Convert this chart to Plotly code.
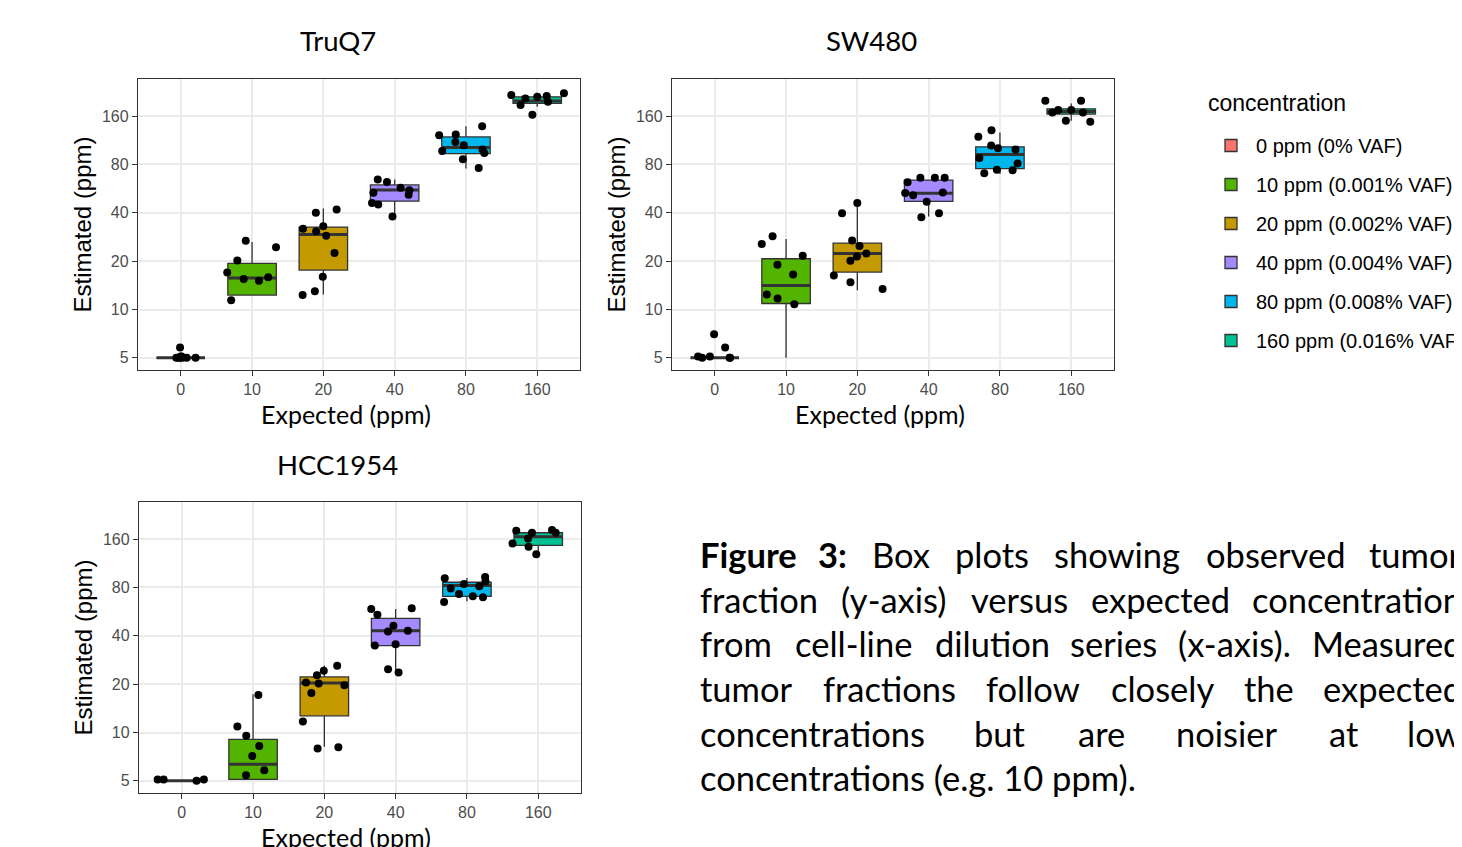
import math
import plotly.graph_objects as go

# ---- data ---------------------------------------------------------------
CATEGORIES = ["0", "10", "20", "40", "80", "160"]
LEGEND_LABELS = ["0 ppm (0% VAF)", "10 ppm (0.001% VAF)", "20 ppm (0.002% VAF)",
                 "40 ppm (0.004% VAF)", "80 ppm (0.008% VAF)", "160 ppm (0.016% VAF)"]
COLORS = ["#F8766D", "#53B400", "#C49A00", "#A58AFF", "#00B6EB", "#00C094"]
Y_TICKS = [5, 10, 20, 40, 80, 160]

# TruQ7
TRUQ7_Q1 = [5, 12.3, 17.6, 47.3, 93.5, 192]
TRUQ7_MED = [5, 15.7, 29.3, 55.5, 102, 199]
TRUQ7_Q3 = [5, 19.4, 32.6, 59.7, 118.8, 211]
TRUQ7_LO = [5, 12.3, 12.4, 38.5, 75.4, 183]
TRUQ7_HI = [5, 26.3, 42.6, 64.4, 138.6, 224]
TRUQ7_PTS = [
    [5.8, 5.1, 5.0, 5.0, 5.0, 5.0, 5.0, 5.0, 5.1],
    [24.4, 20.2, 15.9, 15.1, 17.0, 26.8, 15.5, 11.4],
    [42.0, 33.0, 31.8, 40.1, 28.8, 30.7, 22.5, 16.0, 13.0, 12.3],
    [64.4, 62.2, 57.4, 55.2, 53.4, 51.9, 46.0, 45.1, 38.0],
    [138.6, 123, 121.8, 110.6, 105.4, 99.1, 97.2, 94.4, 86.2, 76.1],
    [196.6, 206.4, 221.8, 211, 216.5, 213.3, 187.4, 163.0],
]

# SW480
SW480_Q1 = [5, 10.9, 17.1, 47.1, 75.4, 164.7]
SW480_MED = [5, 14.1, 22.3, 52.9, 92.2, 171.1]
SW480_Q3 = [5, 20.7, 25.9, 64.0, 103, 177.8]
SW480_LO = [5, 5.0, 13.2, 38.0, 69.8, 149.6]
SW480_HI = [5, 27.5, 46.0, 64.0, 126.5, 192]
SW480_PTS = [
    [5.1, 5.0, 5.0, 5.1, 5.0, 5.8, 7.0],
    [21.6, 28.6, 25.6, 19.0, 16.5, 12.4, 11.7, 10.8],
    [46.0, 39.7, 26.9, 24.9, 22.3, 21.4, 20.1, 16.3, 14.8, 13.4],
    [66.2, 66.2, 66.2, 61.9, 53.6, 53.1, 51.4, 46.9, 39.8, 37.6],
    [130.8, 118.9, 104.9, 101, 99.0, 87.9, 81.0, 73.6, 74.3, 70.5],
    [199.5, 199.5, 174.4, 174.4, 168.7, 168.7, 147.5, 149.6],
]

# HCC1954
HCC1954_Q1 = [5, 5.1, 12.7, 34.8, 70.5, 146.1]
HCC1954_MED = [5, 6.35, 20.3, 43.0, 82.2, 165.5]
HCC1954_Q3 = [5, 9.06, 22.2, 51.4, 86.2, 175.3]
HCC1954_LO = [5, 5.1, 8.15, 23.1, 65.6, 131.4]
HCC1954_HI = [5, 17.3, 26.1, 58.8, 91.8, 175.3]
HCC1954_PTS = [
    [5.1, 5.1, 5.0, 5.1],
    [17.1, 10.9, 9.55, 8.23, 7.13, 5.83, 5.42],
    [26.0, 24.2, 22.7, 19.7, 20.2, 20.5, 17.6, 11.7, 8.08, 7.96],
    [58.8, 59.3, 54.2, 46.2, 42.6, 43.0, 35.5, 34.8, 24.8, 23.6],
    [84.2, 87.5, 93.1, 91.3, 81.4, 78.7, 72.9, 70.5, 69.5, 65.0],
    [180.4, 182.1, 175.3, 175.3, 161.6, 150.3, 143.3, 129.0],
]

W, H = 1462, 847
OFF = 8  # page body margin that the browser adds around the plot div
DARK = "#333333"


def px(x):
    return (x - OFF) / W


def py(y):
    return 1 - (y - OFF) / H


panels = [
    ("x", "y", TRUQ7_Q1, TRUQ7_MED, TRUQ7_Q3, TRUQ7_LO, TRUQ7_HI, TRUQ7_PTS),
    ("x2", "y2", SW480_Q1, SW480_MED, SW480_Q3, SW480_LO, SW480_HI, SW480_PTS),
    ("x3", "y3", HCC1954_Q1, HCC1954_MED, HCC1954_Q3, HCC1954_LO, HCC1954_HI, HCC1954_PTS),
]

fig = go.Figure()

for p, (xa, ya, q1, med, q3, lo, hi, pts) in enumerate(panels):
    # boxes (one trace per concentration so each gets its own fill)
    for i, cat in enumerate(CATEGORIES):
        fig.add_trace(go.Box(
            x=[cat], q1=[q1[i]], median=[med[i]], q3=[q3[i]],
            lowerfence=[lo[i]], upperfence=[hi[i]],
            name=LEGEND_LABELS[i], legendgroup=cat, showlegend=(p == 0),
            fillcolor=COLORS[i], line=dict(color=DARK, width=1.3),
            whiskerwidth=0, width=0.68, boxpoints=False,
            xaxis=xa, yaxis=ya, hoverinfo="skip",
        ))
    # thicker median bar, like ggplot's fatten
    fig.add_trace(go.Box(
        x=CATEGORIES, q1=med, median=med, q3=med, lowerfence=med, upperfence=med,
        fillcolor="rgba(0,0,0,0)", line=dict(color=DARK, width=3),
        whiskerwidth=0, width=0.68, boxpoints=False, showlegend=False,
        xaxis=xa, yaxis=ya, hoverinfo="skip",
    ))
    # jittered samples
    xs, ys = [], []
    for i, cat in enumerate(CATEGORIES):
        xs += [cat] * len(pts[i])
        ys += pts[i]
    fig.add_trace(go.Box(
        x=xs, y=ys, boxpoints="all", jitter=1, pointpos=0, width=0.8,
        fillcolor="rgba(0,0,0,0)", line=dict(color="rgba(0,0,0,0)", width=0),
        marker=dict(color="black", size=8, line=dict(width=0)),
        showlegend=False, xaxis=xa, yaxis=ya, hoverinfo="skip",
    ))

tick_font = dict(family="Liberation Sans, Arial, sans-serif", size=16, color="#4D4D4D")
axis_common = dict(
    showgrid=True, gridcolor="#EBEBEB", gridwidth=1.8, zeroline=False,
    showline=True, mirror=True, linecolor=DARK, linewidth=1.3,
    ticks="outside", ticklen=5, tickcolor=DARK, tickwidth=1.2,
    tickfont=tick_font,
)

# plot frames in pixels: (left, right, top, bottom)
frames = [(138, 580, 79, 370), (672, 1114, 79, 370), (139, 581, 502, 793)]
yrange = [math.log10(4.2), math.log10(272.5)]

layout_axes = {}
for p, (l, r, t, b) in enumerate(frames):
    sfx = "" if p == 0 else str(p + 1)
    layout_axes["xaxis" + sfx] = dict(
        axis_common, type="category", categoryorder="array", categoryarray=CATEGORIES,
        range=[-0.6, 5.6], domain=[px(l), px(r)], anchor="y" + sfx,
    )
    layout_axes["yaxis" + sfx] = dict(
        axis_common, type="log", range=yrange, tickvals=Y_TICKS,
        ticktext=[str(v) for v in Y_TICKS], domain=[py(b), py(t)], anchor="x" + sfx,
    )

calibri = "Lato, Carlito, Calibri, sans-serif"
helv = "Liberation Sans, Arial, sans-serif"

annotations = []


def text(s, x, y, size, family=calibri, xanchor="center", angle=0, color="black"):
    annotations.append(dict(
        text=s, x=px(x), y=py(y), xref="paper", yref="paper", showarrow=False,
        xanchor=xanchor, yanchor="middle", textangle=angle,
        font=dict(family=family, size=size, color=color),
    ))


# panel titles
text("TruQ7", 338, 40, 27.5)
text("SW480", 871, 40, 27.5)
text("HCC1954", 337, 464, 27.5)
# axis titles
for (l, r, t, b), ex in zip(frames, [346, 880, 346]):
    text("Expected (ppm)", ex, b + 44, 25)
    text("Estimated (ppm)", l - 56, (t + b) / 2, 24, family=helv, angle=-90)
# legend title
text("concentration", 1206, 103, 23, family=helv, xanchor="left")

# caption, justified word by word
R = 1464
caption = [
    (554, [("<b>Figure</b>", 698, "left"), ("<b>3:</b>", 833, "center"), ("Box", 901, "center"),
           ("plots", 992, "center"), ("showing", 1117, "center"), ("observed", 1275, "center"),
           ("tumor", R, "right")]),
    (599, [("fraction", 698, "left"), ("(y-axis)", 893, "center"), ("versus", 1019, "center"),
           ("expected", 1160, "center"), ("concentration", R, "right")]),
    (643, [("from", 698, "left"), ("cell-line", 853, "center"), ("dilution", 992, "center"),
           ("series", 1113, "center"), ("(x-axis).", 1234, "center"), ("Measured", R, "right")]),
    (688, [("tumor", 698, "left"), ("fractions", 889, "center"), ("follow", 1033, "center"),
           ("closely", 1162, "center"), ("the", 1269, "center"), ("expected", R, "right")]),
    (733, [("concentrations", 698, "left"), ("but", 1000, "center"), ("are", 1101, "center"),
           ("noisier", 1227, "center"), ("at", 1344, "center"), ("low", R, "right")]),
    (777, [("concentrations (e.g. 10 ppm).", 698, "left")]),
]
for yline, words in caption:
    for w, x, anc in words:
        text(w, x, yline, 34.5, xanchor=anc)

fig.update_layout(
    width=W, height=H,
    margin=dict(l=0, r=0, t=0, b=0, autoexpand=False),
    paper_bgcolor="white", plot_bgcolor="white",
    boxmode="overlay", showlegend=True,
    legend=dict(
        x=px(1206), y=py(126), xanchor="left", yanchor="top",
        font=dict(family=helv, size=20, color="black"),
        tracegroupgap=10, itemwidth=40, bgcolor="rgba(0,0,0,0)",
    ),
    annotations=annotations,
    **layout_axes,
)

fig.write_html("out.html")
